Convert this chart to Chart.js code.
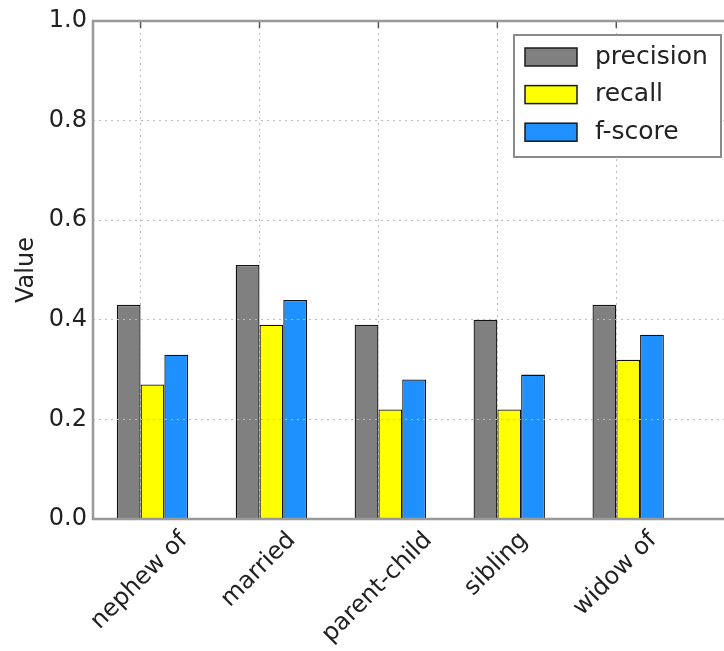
<!DOCTYPE html>
<html><head><meta charset="utf-8">
<script src="https://cdn.jsdelivr.net/npm/chart.js@4.4.0/dist/chart.umd.min.js"></script>
<style>
html,body{margin:0;padding:0;overflow:hidden;background:#fff;width:724px;height:651px}
#wrap{width:780px;height:651px;position:relative}
</style></head>
<body><div id="wrap"><canvas id="c" width="780" height="651"></canvas></div>
<script>
const categories = ['nephew of', 'married', 'parent-child', 'sibling', 'widow of'];
const seriesNames = ['precision', 'recall', 'f-score'];
const precision = [0.43, 0.51, 0.39, 0.40, 0.43];
const recall = [0.27, 0.39, 0.22, 0.22, 0.32];
const fscore = [0.33, 0.44, 0.28, 0.29, 0.37];
const yTicks = [0.0, 0.2, 0.4, 0.6, 0.8, 1.0];
const colors = ['#808080', '#ffff00', '#1e90ff'];

const FONT = '"DejaVu Sans", sans-serif';
const TXT = '#222222';

function toPoints(arr) {
  // group of three bars starts at index i, ticks at i + 0.2
  return arr.map((v, i) => ({x: i + 0.3, y: v}));
}

const decor = {
  id: 'decor',
  afterDraw(chart) {
    const {ctx, chartArea: a, scales: {x}} = chart;
    ctx.save();
    // inward tick marks on top spine
    ctx.strokeStyle = '#555';
    ctx.lineWidth = 1.5;
    x.ticks.forEach(t => {
      const px = x.getPixelForValue(t.value);
      ctx.beginPath(); ctx.moveTo(px, a.top); ctx.lineTo(px, a.top + 7); ctx.stroke();
    });
    // spines
    ctx.strokeStyle = '#999999';
    ctx.lineWidth = 2.5;
    ctx.strokeRect(a.left, a.top, a.right - a.left, a.bottom - a.top);
    // rotated x labels, centered on tick (matplotlib style)
    ctx.font = '24px ' + FONT;
    ctx.fillStyle = TXT;
    ctx.textAlign = 'center';
    ctx.textBaseline = 'middle';
    x.ticks.forEach((t, i) => {
      const label = categories[i];
      const w = ctx.measureText(label).width;
      const ext = (w + 24) * Math.SQRT1_2;
      const cx = x.getPixelForValue(t.value) - 1;
      const cy = a.bottom + 9 + ext / 2;
      ctx.save(); ctx.translate(cx, cy); ctx.rotate(-Math.PI / 4);
      ctx.fillText(label, 0, 0); ctx.restore();
    });
    // legend
    const lx = 514, ly = 35, lw = 207, lh = 122;
    ctx.fillStyle = '#fff';
    ctx.fillRect(lx, ly, lw, lh);
    ctx.strokeStyle = '#8a8a8a';
    ctx.lineWidth = 2;
    ctx.strokeRect(lx, ly, lw, lh);
    ctx.font = '25px ' + FONT;
    chart.data.datasets.forEach((ds, i) => {
      const cy = 57 + i * 37.6;
      ctx.fillStyle = ds.backgroundColor;
      ctx.fillRect(525, cy - 9, 52, 18);
      ctx.strokeStyle = '#1a1a1a';
      ctx.lineWidth = 1.5;
      ctx.strokeRect(525, cy - 9, 52, 18);
      ctx.fillStyle = TXT;
      ctx.textAlign = 'left';
      ctx.textBaseline = 'middle';
      ctx.fillText(ds.label, 595, cy);
    });
    ctx.restore();
  }
};

const seriesData = [precision, recall, fscore];
new Chart(document.getElementById('c'), {
  type: 'bar',
  data: {
    datasets: seriesData.map((arr, k) => ({
      label: seriesNames[k],
      data: toPoints(arr),
      backgroundColor: colors[k],
      borderColor: '#111111',
      borderWidth: 1.3,
      categoryPercentage: 0.6,
      barPercentage: 1.0
    }))
  },
  options: {
    responsive: false,
    animation: false,
    events: [],
    layout: {padding: {top: 21, right: 21, left: 0, bottom: 0}},
    plugins: {legend: {display: false}, tooltip: {enabled: false}},
    scales: {
      x: {
        type: 'linear',
        min: -0.2,
        max: 5.4,
        offset: false,
        grid: {offset: false, color: '#bbbbbb', lineWidth: 1, drawTicks: false, z: 1},
        border: {display: false, dash: [2, 4]},
        ticks: {display: false},
        afterBuildTicks: s => { s.ticks = categories.map((c, i) => ({value: i + 0.2})); },
        afterFit: s => { s.height = 132; }
      },
      y: {
        min: 0,
        max: 1,
        grid: {color: '#bbbbbb', lineWidth: 1, drawTicks: false, z: 1},
        border: {display: false, dash: [2, 4]},
        ticks: {
          padding: 6,
          color: TXT,
          font: {family: FONT, size: 24},
          callback: v => Number(v).toFixed(1)
        },
        afterBuildTicks: s => { s.ticks = yTicks.map(v => ({value: v})); },
        title: {display: true, text: 'Value', color: TXT, font: {family: FONT, size: 24}, padding: {top: 12, bottom: 0}},
        afterFit: s => { s.width = 93; }
      }
    }
  },
  plugins: [decor]
});
</script>
</body></html>
